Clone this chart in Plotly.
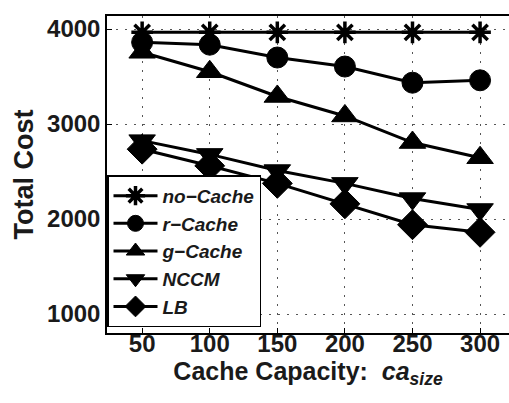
import plotly.graph_objects as go

capacity = [50, 100, 150, 200, 250, 300]
no_cache = [3965, 3965, 3965, 3965, 3965, 3965]
r_cache = [3860, 3835, 3700, 3605, 3435, 3460]
g_cache = [3755, 3550, 3290, 3085, 2805, 2645]
nccm = [2825, 2680, 2510, 2375, 2215, 2100]
lb = [2735, 2560, 2375, 2160, 1940, 1860]

series_names = ["no\u2212Cache", "r\u2212Cache", "g\u2212Cache", "NCCM", "LB"]
series_values = [no_cache, r_cache, g_cache, nccm, lb]
symbols = ["asterisk-open", "circle", "triangle-up", "triangle-down", "diamond"]
sizes = [18, 21, 23, 23, 23]

FONT = "Liberation Sans, Arial, Helvetica, sans-serif"
XRANGE = [24, 321.4]

fig = go.Figure()
for name, vals, sym, sz in zip(series_names, series_values, symbols, sizes):
    fig.add_trace(go.Scatter(
        x=capacity, y=vals, name=name, mode="lines+markers",
        line=dict(color="black", width=3),
        marker=dict(symbol=sym, size=sz, color="black",
                    line=dict(color="black", width=3.5 if sym == "asterisk-open" else 1)),
    ))

# helper trace so the label axis is drawn
fig.add_trace(go.Scatter(
    x=capacity, y=no_cache, xaxis="x2", yaxis="y", mode="lines",
    line=dict(width=0, color="rgba(0,0,0,0)"), showlegend=False, hoverinfo="skip",
))

fig.update_layout(
    width=509, height=403,
    margin=dict(l=107, r=0, t=16, b=70),
    paper_bgcolor="white", plot_bgcolor="white",
    font=dict(family=FONT, color="#1a1a1a"),
    showlegend=True,
    legend=dict(
        x=0, y=0.018, xanchor="left", yanchor="bottom",
        bgcolor="white", bordercolor="black", borderwidth=1.5,
        font=dict(family=FONT, size=19, weight="bold", style="italic", color="#1a1a1a"),
        tracegroupgap=0, itemwidth=44,
    ),
    xaxis=dict(
        range=XRANGE, tickvals=capacity, showticklabels=False,
        ticks="inside", ticklen=5, tickcolor="black", tickwidth=1,
        showline=True, linecolor="black", linewidth=1.5, mirror=True,
        showgrid=True, gridcolor="#555", gridwidth=1, griddash="2px,7px",
        zeroline=False,
    ),
    xaxis2=dict(
        range=XRANGE, tickvals=capacity, overlaying="x", anchor="free", position=0.02,
        side="bottom",
        tickfont=dict(size=24, weight="bold"),
        ticks="", showline=False, showgrid=False, zeroline=False,
        title=dict(text="Cache Capacity:  <i>ca<sub>size</sub></i>",
                   font=dict(size=25, weight="bold"), standoff=0),
    ),
    yaxis=dict(
        range=[800, 4137], tickvals=[1000, 2000, 3000, 4000],
        tickfont=dict(size=24, weight="bold"),
        ticks="inside", ticklen=5, tickcolor="black", tickwidth=1,
        showline=True, linecolor="black", linewidth=1.5, mirror=False,
        showgrid=True, gridcolor="#555", gridwidth=1, griddash="2px,7px",
        zeroline=False,
        title=dict(text="Total Cost", font=dict(size=27, weight="bold"), standoff=6),
    ),
)

fig.write_html("out.html")
